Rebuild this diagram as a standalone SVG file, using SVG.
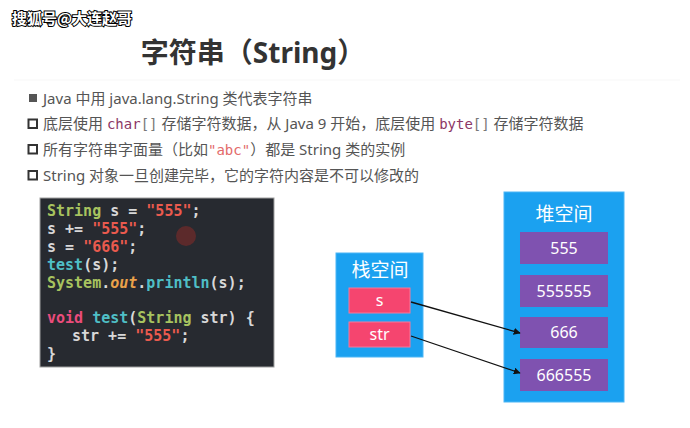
<svg xmlns="http://www.w3.org/2000/svg" width="690" height="428" viewBox="0 0 690 428">
<style>
.bul{font-family:"Noto Sans","Noto Sans CJK SC",sans-serif;font-size:15px;fill:#555}
.mono{font-family:"DejaVu Sans Mono","Liberation Mono",monospace}
.code{font-family:"DejaVu Sans Mono","Liberation Mono",monospace;font-size:15px;font-weight:bold;fill:#d8d8d8;white-space:pre}
.g{fill:#a7c35f}.t{fill:#4fbfc6}.r{fill:#ea5a4e}.o{fill:#eaa14a;font-style:italic}.p{fill:#eb4c7c}
.lbl{font-family:"Noto Sans","Noto Sans CJK SC",sans-serif;fill:#fff;text-anchor:middle}
.hd{font-size:19px}.val{font-size:16px}
.blue{fill:#1ba1f0;stroke:#4cb6f5;stroke-width:1}
.purple{fill:#7f52b0}
.pink{fill:#f5456f;stroke:#f7789a;stroke-width:1}
.conn{stroke:#111;stroke-width:1.3;fill:none;marker-end:url(#ah)}
</style>
<defs>
<marker id="ah" viewBox="0 0 10 10" refX="9" refY="5" markerWidth="7" markerHeight="7" orient="auto" markerUnits="userSpaceOnUse">
<path d="M0,0 L10,5 L0,10 z" fill="#111"/>
</marker>
</defs>
<rect width="690" height="428" fill="#fff"/>
<g id="watermark">
<text x="12" y="24" font-family="'Noto Sans CJK SC',sans-serif" font-size="15" font-weight="bold" fill="#fff" stroke="#000" stroke-width="2" paint-order="stroke">搜狐号@大连赵哥</text>
</g>
<g id="title">
<text x="253" y="63" text-anchor="middle" font-family="'Noto Sans','Noto Sans CJK SC',sans-serif" font-size="28" font-weight="bold" fill="#333">字符串（String）</text>
<line x1="14" y1="80" x2="680" y2="80" stroke="#f7f7f7" stroke-width="1"/>
</g>
<g id="bullets">
<rect x="29" y="94" width="8" height="8" fill="#555"/>
<text class="bul" x="43" y="104">Java 中用 java.lang.String 类代表字符串</text>
<rect x="28.5" y="119.5" width="8.5" height="8.5" fill="none" stroke="#333" stroke-width="2"/>
<text class="bul" x="43" y="129">底层使用 <tspan class="mono" font-size="14" fill="#8c3765">char</tspan><tspan class="mono" font-size="14" fill="#777">[]</tspan> 存储字符数据，从 Java 9 开始，底层使用 <tspan class="mono" font-size="14" fill="#8c3765">byte</tspan><tspan class="mono" font-size="14" fill="#777">[]</tspan> 存储字符数据</text>
<rect x="28.5" y="145" width="8.5" height="8.5" fill="none" stroke="#333" stroke-width="2"/>
<text class="bul" x="43" y="154.5">所有字符串字面量（比如<tspan class="mono" font-size="14" fill="#e36a6a">"abc"</tspan>）都是 String 类的实例</text>
<rect x="28.5" y="171" width="8.5" height="8.5" fill="none" stroke="#333" stroke-width="2"/>
<text class="bul" x="43" y="180.5">String 对象一旦创建完毕，它的字符内容是不可以修改的</text>
</g>
<g id="code">
<rect x="40" y="198" width="234" height="169" fill="#272a30" stroke="#a0a0a0" stroke-width="1"/>
<circle cx="186" cy="236" r="10" fill="#6a2a2a" opacity="0.8"/>
<text class="code" x="47" y="216"><tspan class="g">String</tspan> s = <tspan class="r">"555"</tspan>;</text>
<text class="code" x="47" y="234">s += <tspan class="r">"555"</tspan>;</text>
<text class="code" x="47" y="252">s = <tspan class="r">"666"</tspan>;</text>
<text class="code" x="47" y="270"><tspan class="t">test</tspan>(s);</text>
<text class="code" x="47" y="288"><tspan class="g">System</tspan>.<tspan class="o">out</tspan>.<tspan class="t">println</tspan>(s);</text>
<text class="code" x="47" y="323"><tspan class="p">void</tspan> <tspan class="t">test</tspan>(<tspan class="g">String</tspan> str) {</text>
<text class="code" x="72" y="341">str += <tspan class="r">"555"</tspan>;</text>
<text class="code" x="47" y="359">}</text>
</g>
<g id="stack">
<rect class="blue" x="336" y="253" width="87" height="104"/>
<text class="lbl hd" x="380" y="277">栈空间</text>
</g>
<g id="var-s">
<rect class="pink" x="349" y="288" width="61" height="25"/>
<text class="lbl val" x="379.5" y="306">s</text>
</g>
<g id="var-str">
<rect class="pink" x="349" y="322" width="61" height="25"/>
<text class="lbl val" x="379.5" y="340">str</text>
</g>
<g id="heap">
<rect class="blue" x="504" y="192" width="120" height="210"/>
<text class="lbl hd" x="564" y="221">堆空间</text>
</g>
<g id="obj-555">
<rect class="purple" x="520" y="232" width="88" height="32"/>
<text class="lbl val" x="564" y="254">555</text>
</g>
<g id="obj-555555">
<rect class="purple" x="520" y="275" width="88" height="32"/>
<text class="lbl val" x="564" y="297">555555</text>
</g>
<g id="obj-666">
<rect class="purple" x="520" y="317" width="88" height="31"/>
<text class="lbl val" x="564" y="338">666</text>
</g>
<g id="obj-666555">
<rect class="purple" x="520" y="359" width="88" height="32"/>
<text class="lbl val" x="564" y="381">666555</text>
</g>
<g id="connectors">
<line class="conn" x1="411" y1="302" x2="520" y2="333"/>
<line class="conn" x1="411" y1="336" x2="520" y2="373"/>
</g>
</svg>
